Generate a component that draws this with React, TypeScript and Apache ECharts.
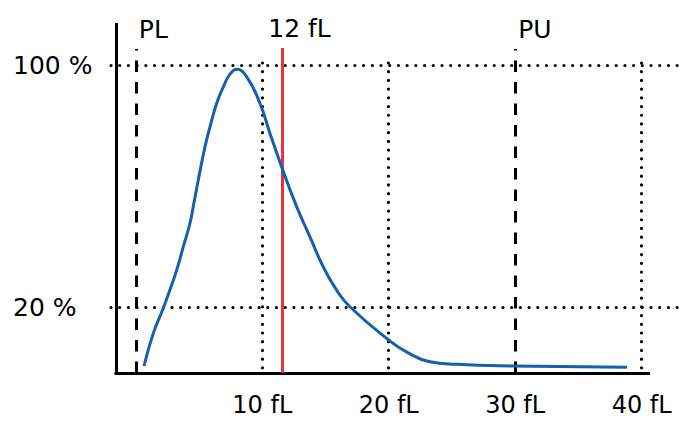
import React, { useEffect, useRef } from 'react';
import * as echarts from 'echarts';

// Platelet volume distribution (schematic)
const volumes = [0.65, 1.38, 2.17, 2.7, 3.23, 3.75, 4.28, 4.54, 4.94, 5.47, 5.87, 6.39, 6.92, 7.45, 7.98, 8.77, 9.82, 10.61, 11.53, 12.72, 13.77, 14.82, 15.88, 16.93, 20.0, 21.4, 23.26, 25.37, 29.8, 38.84];
const frequencies = [0.6, 11.4, 19.7, 25.8, 32.3, 40.0, 47.8, 53.3, 62.1, 73.1, 79.7, 87.4, 92.9, 97.1, 98.7, 96.2, 87.4, 77.5, 66.5, 53.3, 43.3, 33.4, 25.7, 20.2, 9.2, 5.3, 2.0, 1.15, 0.6, 0.2];

const xTickValues = [10, 20, 30, 40];
const yTickValues = [20, 100];

const xMin = -1.963;
const xMax = 43.35;
const yAxisAt = -1.57;
const xAxisStart = -1.69;
const xAxisEnd = 40.66;
const yMin = -2.5;
const yMax = 114;
const xAxisAt = -1.7;

const limitLines = [
  { name: 'PL', value: 0 },
  { name: 'PU', value: 30 },
];
const cutoff = { name: '12 fL', value: 11.6 };
const limitTop = 105.4;
const gridTop = 102.7;

const FONT = 'DejaVu Sans';

export default function App() {
  const ref = useRef<HTMLDivElement>(null);
  useEffect(() => {
    if (!ref.current) return;
    const chart = echarts.init(ref.current, undefined, { renderer: 'svg' });

    const dotted = { color: '#000', width: 3.2, type: [0.01, 8.7] as number[], cap: 'round' as const };
    const solidBlack = { color: '#000', width: 3, type: 'solid' };
    const markData: any[] = [];
    yTickValues.forEach((v) => {
      markData.push([
        { coord: [xMin, v], lineStyle: dotted, label: { show: false } },
        { coord: [xMax, v] },
      ]);
    });
    xTickValues
      .filter((v) => !limitLines.some((l) => l.value === v))
      .forEach((v) => {
        markData.push([
          { coord: [v, 0], lineStyle: dotted, label: { show: false } },
          { coord: [v, gridTop] },
        ]);
      });
    // axis lines
    markData.push([
      { coord: [xAxisStart, xAxisAt], lineStyle: solidBlack, label: { show: false } },
      { coord: [xAxisEnd, xAxisAt] },
    ]);
    markData.push([
      { coord: [yAxisAt, xAxisAt - 0.5], lineStyle: solidBlack, label: { show: false } },
      { coord: [yAxisAt, yMax] },
    ]);
    limitLines.forEach((l) => {
      markData.push([
        {
          coord: [l.value, xAxisAt],
          lineStyle: { color: '#000', width: 3, type: [11.5, 10] },
          label: {
            show: true,
            position: 'end',
            formatter: l.name,
            align: 'left',
            distance: 7,
            padding: [0, 0, 0, 3],
            color: '#000',
            fontSize: 25,
            fontFamily: FONT,
          },
        },
        { coord: [l.value, limitTop] },
      ]);
    });
    markData.push([
      {
        coord: [cutoff.value, xAxisAt],
        lineStyle: { color: '#e8333c', width: 3, type: 'solid' },
        label: {
          show: true,
          position: 'end',
          formatter: cutoff.name,
          align: 'center',
          distance: 7,
          padding: [0, 0, 0, 34],
          color: '#000',
          fontSize: 25,
          fontFamily: FONT,
        },
      },
      { coord: [cutoff.value, limitTop + 0.3] },
    ]);

    chart.setOption({
      animation: false,
      grid: { left: 111, right: 0, top: 23, bottom: 45.6 },
      xAxis: {
        type: 'value',
        min: xMin,
        max: xMax,
        axisLine: { show: false, onZero: false },
        axisTick: { show: false },
        splitLine: { show: false },
        axisLabel: {
          customValues: xTickValues,
          formatter: '{value} fL',
          color: '#000',
          fontSize: 24,
          lineHeight: 20,
          fontFamily: FONT,
          margin: 20,
        },
      },
      yAxis: {
        type: 'value',
        min: yMin,
        max: yMax,
        axisLine: { show: false, onZero: false },
        axisTick: { show: false },
        splitLine: { show: false },
        axisLabel: {
          customValues: yTickValues,
          formatter: '{value} %',
          color: '#000',
          fontSize: 25,
          fontFamily: FONT,
          align: 'left',
          margin: 98,
        },
      },
      series: [
        {
          type: 'line',
          data: volumes.map((v, i) => [v, frequencies[i]]),
          smooth: 0.5,
          symbol: 'none',
          z: 5,
          lineStyle: { color: '#1560ab', width: 3 },
          markLine: {
            silent: true,
            symbol: 'none',
            z: 3,
            data: markData,
          },
        },
      ],
    });
    return () => chart.dispose();
  }, []);
  return (
    <div
      ref={ref}
      style={{ position: 'fixed', left: 0, top: 0, width: 684, height: 421, background: '#fff' }}
    />
  );
}
